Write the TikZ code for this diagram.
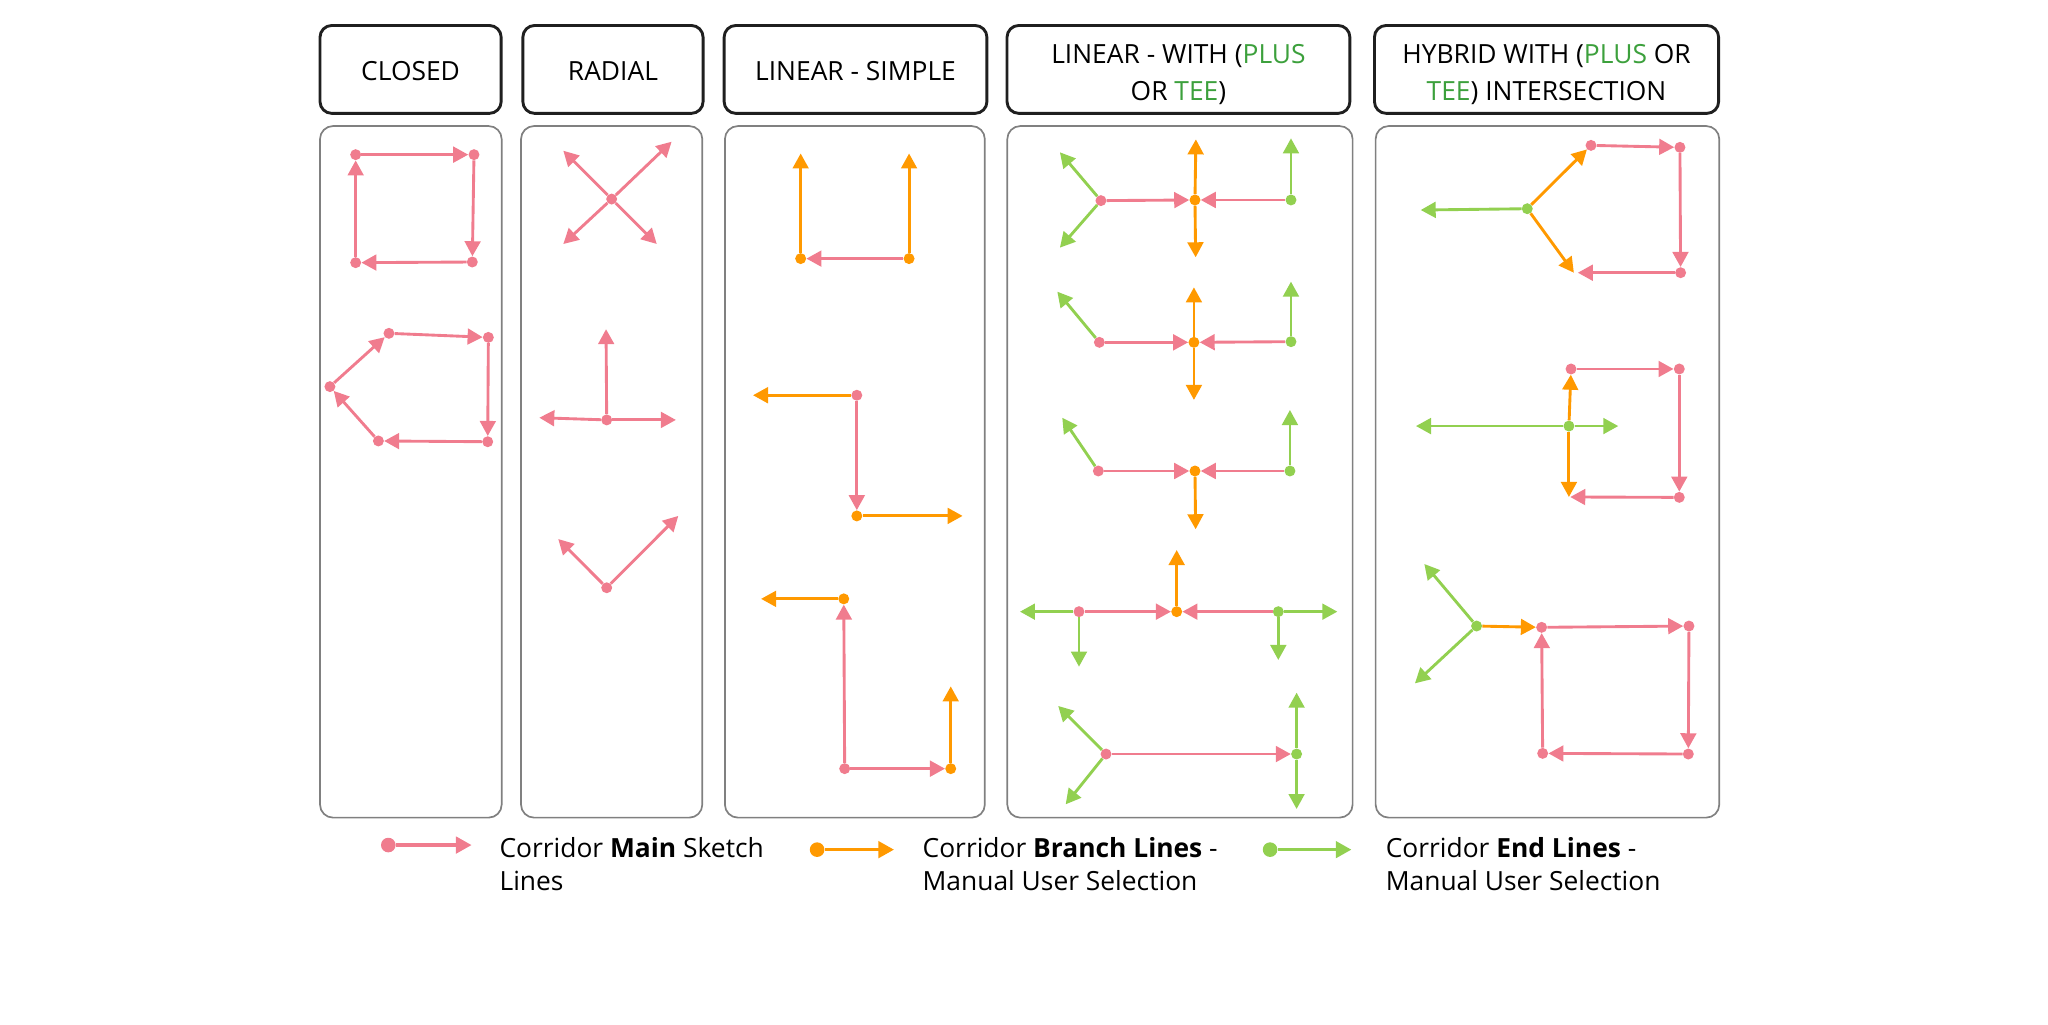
\documentclass[tikz,border=0pt]{standalone}
\usepackage{fontspec}
\setmainfont{Open Sans}
\usetikzlibrary{arrows.meta}
\definecolor{pinkc}{RGB}{240,124,142}
\definecolor{orangec}{RGB}{255,153,0}
\definecolor{greenc}{RGB}{146,208,80}
\definecolor{txtgreen}{RGB}{60,160,60}
\definecolor{panelgray}{RGB}{128,128,128}
\begin{document}
\begin{tikzpicture}[x=1pt,y=-1pt,
  >={Triangle[length=11.5pt,width=12pt]},
  hdrbox/.style={draw=black!88,line width=2.2pt,rounded corners=9pt,fill=white,inner sep=0pt,minimum height=67.3pt},
  panelbox/.style={draw=panelgray,line width=1.3pt,rounded corners=10pt,inner sep=0pt,minimum height=529.5pt},
  lbl/.style={font=\fontsize{20.2}{24}\selectfont,anchor=base,inner sep=0pt},
  leglbl/.style={font=\fontsize{20.2}{24}\selectfont,anchor=base west,inner sep=0pt},
  pdot/.style={circle,fill=pinkc,inner sep=0pt,minimum size=8.4pt},
  odot/.style={circle,fill=orangec,inner sep=0pt,minimum size=8.4pt},
  gdot/.style={circle,fill=greenc,inner sep=0pt,minimum size=8.4pt},
  pl/.style={draw=pinkc,line width=2.2pt,->},
  ol/.style={draw=orangec,line width=2.2pt,->},
  gl/.style={draw=greenc,line width=2.2pt,->},
  legdot/.style={circle,inner sep=0pt,minimum size=11.2pt},
  legline/.style={line width=2.8pt,-{Triangle[length=12pt,width=12.5pt]}}
]
\useasboundingbox (0,0) rectangle (1568,784);

% ---------- header boxes ----------
\node[hdrbox,minimum width=138.7pt] (h1) at (314.35,53.15) {};
\node[hdrbox,minimum width=138pt]   (h2) at (469.3,53.15) {};
\node[hdrbox,minimum width=201.2pt] (h3) at (655,53.15) {};
\node[hdrbox,minimum width=262.5pt] (h4) at (902.25,53.15) {};
\node[hdrbox,minimum width=263.5pt] (h5) at (1184.05,53.15) {};
\node[lbl] (t1) at (314.35,62) {CLOSED};
\node[lbl] (t2) at (469.3,62) {RADIAL};
\node[lbl] (t3) at (655,62) {LINEAR - SIMPLE};
\node[lbl] (t4a) at (902.25,48.5) {LINEAR - WITH (\textcolor{txtgreen}{PLUS}};
\node[lbl] (t4b) at (902.25,76.6) {OR \textcolor{txtgreen}{TEE})};
\node[lbl] (t5a) at (1184.05,48.5) {HYBRID WITH (\textcolor{txtgreen}{PLUS} OR};
\node[lbl] (t5b) at (1184.05,76.6) {\textcolor{txtgreen}{TEE}) INTERSECTION};

% ---------- panels ----------
\node[panelbox,minimum width=139.1pt] (p1) at (314.55,361.25) {};
\node[panelbox,minimum width=138.8pt] (p2) at (468.3,361.25) {};
\node[panelbox,minimum width=199pt]   (p3) at (654.5,361.25) {};
\node[panelbox,minimum width=264.4pt] (p4) at (903.4,361.25) {};
\node[panelbox,minimum width=263.1pt] (p5) at (1184.75,361.25) {};

% ---------- CLOSED ----------
\node[pdot] (ca) at (272.3,118.4) {};
\node[pdot] (cb) at (362.9,118.4) {};
\node[pdot] (cc) at (361.6,200.6) {};
\node[pdot] (cd) at (272.3,201.1) {};
\draw[pl] (ca) -- (cb);
\draw[pl] (cb) -- (cc);
\draw[pl] (cc) -- (cd);
\draw[pl] (cd) -- (ca);
\node[pdot] (pa) at (297.8,255.2) {};
\node[pdot] (pb) at (373.9,258.3) {};
\node[pdot] (pc) at (373.4,338.2) {};
\node[pdot] (pd) at (289.7,337.6) {};
\node[pdot] (pe) at (252.6,296) {};
\draw[pl] (pa) -- (pb);
\draw[pl] (pb) -- (pc);
\draw[pl] (pc) -- (pd);
\draw[pl] (pd) -- (pe);
\draw[pl] (pe) -- (pa);

% ---------- RADIAL ----------
\node[pdot] (rx) at (468.3,152.4) {};
\coordinate (rx1) at (431.3,115.4);
\coordinate (rx2) at (514.2,108.5);
\coordinate (rx3) at (431.3,186.8);
\coordinate (rx4) at (502.8,186.8);
\draw[pl] (rx) -- (rx1);
\draw[pl] (rx) -- (rx2);
\draw[pl] (rx) -- (rx3);
\draw[pl] (rx) -- (rx4);
\node[pdot] (rt) at (464.5,321.5) {};
\coordinate (rt1) at (464,252);
\coordinate (rt2) at (412.9,319.8);
\coordinate (rt3) at (517.5,321.5);
\draw[pl] (rt) -- (rt1);
\draw[pl] (rt) -- (rt2);
\draw[pl] (rt) -- (rt3);
\node[pdot] (rv) at (464.5,450) {};
\coordinate (rv1) at (427.4,412.7);
\coordinate (rv2) at (519.3,395);
\draw[pl] (rv) -- (rv1);
\draw[pl] (rv) -- (rv2);

% ---------- LINEAR - SIMPLE ----------
\node[odot] (sa) at (613,198) {};
\node[odot] (sb) at (696,198) {};
\coordinate (sa1) at (613,117.5);
\coordinate (sb1) at (696,117.5);
\draw[ol] (sa) -- (sa1);
\draw[ol] (sb) -- (sb1);
\draw[pl] (sb) -- (sa);
\node[pdot] (za) at (656,302.6) {};
\node[odot] (zb) at (656,395) {};
\coordinate (za1) at (576.5,302.6);
\coordinate (zb1) at (737,395);
\draw[ol] (za) -- (za1);
\draw[pl] (za) -- (zb);
\draw[ol] (zb) -- (zb1);
\node[odot] (la) at (646,458.5) {};
\node[pdot] (lb) at (646.7,588.5) {};
\node[odot] (lc) at (727.9,588.5) {};
\coordinate (la1) at (582.7,458.5);
\coordinate (lc1) at (727.9,525.5);
\draw[ol] (la) -- (la1);
\draw[pl] (lb) -- (la);
\draw[pl] (lb) -- (lc);
\draw[ol] (lc) -- (lc1);

% ---------- LINEAR - WITH ----------
% pattern 1
\node[pdot] (wa) at (842.9,153.6) {};
\node[odot] (wb) at (914.9,153.1) {};
\node[gdot] (wc) at (988.4,153.1) {};
\coordinate (wa1) at (811.5,116.6);
\coordinate (wa2) at (811.5,189.6);
\coordinate (wb1) at (915.6,106.7);
\coordinate (wb2) at (915.4,197);
\coordinate (wc1) at (988.4,105.9);
\draw[gl] (wa) -- (wa1);
\draw[gl] (wa) -- (wa2);
\draw[pl] (wa) -- (wb);
\draw[pl] (wc) -- (wb);
\draw[ol] (wb) -- (wb1);
\draw[ol] (wb) -- (wb2);
\draw[gl] (wc) -- (wc1);
% pattern 2
\node[pdot] (xa) at (841.7,262.1) {};
\node[odot] (xb) at (914.1,262.1) {};
\node[gdot] (xc) at (988.4,261.6) {};
\coordinate (xa1) at (809.5,223.3);
\coordinate (xb1) at (914.1,220);
\coordinate (xb2) at (914.1,306.2);
\coordinate (xc1) at (988.4,215.6);
\draw[gl] (xa) -- (xa1);
\draw[pl] (xa) -- (xb);
\draw[pl] (xc) -- (xb);
\draw[ol] (xb) -- (xb1);
\draw[ol] (xb) -- (xb2);
\draw[gl] (xc) -- (xc1);
% pattern 3
\node[pdot] (ya) at (840.9,360.6) {};
\node[odot] (yb) at (914.9,360.6) {};
\node[gdot] (yc) at (987.6,360.6) {};
\coordinate (ya1) at (813.3,319.8);
\coordinate (yb1) at (915.4,405.2);
\coordinate (yc1) at (987.6,313.9);
\draw[gl] (ya) -- (ya1);
\draw[pl] (ya) -- (yb);
\draw[pl] (yc) -- (yb);
\draw[ol] (yb) -- (yb1);
\draw[gl] (yc) -- (yc1);
% pattern 4
\node[pdot] (qa) at (826.1,468.3) {};
\node[odot] (qb) at (900.9,468.3) {};
\node[gdot] (qc) at (978.7,468.3) {};
\coordinate (qa1) at (780.9,468.3);
\coordinate (qa2) at (826.1,510.4);
\coordinate (qb1) at (900.9,421.1);
\coordinate (qc1) at (1023.9,468.3);
\coordinate (qc2) at (978.7,505.3);
\draw[gl] (qa) -- (qa1);
\draw[gl] (qa) -- (qa2);
\draw[pl] (qa) -- (qb);
\draw[pl] (qc) -- (qb);
\draw[ol] (qb) -- (qb1);
\draw[gl] (qc) -- (qc1);
\draw[gl] (qc) -- (qc2);
% pattern 5
\node[pdot] (ra) at (846.8,577.3) {};
\node[gdot] (rb) at (992.7,577.3) {};
\coordinate (ra1) at (810.2,540.5);
\coordinate (ra2) at (815.9,615.8);
\coordinate (rb1) at (992.7,530.3);
\coordinate (rb2) at (992.7,619.4);
\draw[gl] (ra) -- (ra1);
\draw[gl] (ra) -- (ra2);
\draw[pl] (ra) -- (rb);
\draw[gl] (rb) -- (rb1);
\draw[gl] (rb) -- (rb2);

% ---------- HYBRID ----------
% pattern 1
\node[gdot] (ha) at (1169.3,159.8) {};
\node[pdot] (hb) at (1218.1,111.3) {};
\node[pdot] (hc) at (1286.2,112.8) {};
\node[pdot] (hd) at (1286.7,208.8) {};
\coordinate (ha1) at (1087.7,160.8);
\coordinate (hx) at (1205,208.8);
\draw[gl] (ha) -- (ha1);
\draw[ol] (ha) -- (hb);
\draw[ol] (ha) -- (hx);
\draw[pl] (hb) -- (hc);
\draw[pl] (hc) -- (hd);
\draw[pl,shorten >=3pt] (hd) -- (hx);
% pattern 2
\node[pdot] (ia) at (1202.8,282.5) {};
\node[pdot] (ib) at (1285.7,282.5) {};
\node[pdot] (ic) at (1285.7,380.8) {};
\node[gdot] (ig) at (1201.2,326.2) {};
\coordinate (ig1) at (1084.1,326.2);
\coordinate (ig2) at (1239,326.2);
\coordinate (iy) at (1201.2,380.5);
\draw[gl] (ig) -- (ig1);
\draw[gl] (ig) -- (ig2);
\draw[ol] (ig) -- (ia);
\draw[ol] (ig) -- (iy);
\draw[pl] (ia) -- (ib);
\draw[pl] (ib) -- (ic);
\draw[pl,shorten >=1pt] (ic) -- (iy);
% pattern 3
\node[gdot] (ja) at (1130.5,479.3) {};
\node[pdot] (jb) at (1180.3,480.3) {};
\node[pdot] (jc) at (1293.1,479.3) {};
\node[pdot] (jd) at (1292.6,577.3) {};
\node[pdot] (je) at (1181.1,576.8) {};
\coordinate (ja1) at (1090.5,431.8);
\coordinate (ja2) at (1083.3,523.2);
\draw[gl] (ja) -- (ja1);
\draw[gl] (ja) -- (ja2);
\draw[ol] (ja) -- (jb);
\draw[pl] (jb) -- (jc);
\draw[pl] (jc) -- (jd);
\draw[pl] (jd) -- (je);
\draw[pl] (je) -- (jb);

% ---------- legend ----------
\node[legdot,fill=pinkc] (lg1) at (297.3,647) {};
\coordinate (lg1e) at (361.1,647);
\draw[legline,draw=pinkc] (lg1) -- (lg1e);
\node[leglbl] (lt1a) at (382.3,656.4) {Corridor \textbf{Main} Sketch};
\node[leglbl] (lt1b) at (382.3,681.9) {Lines};

\node[legdot,fill=orangec] (lg2) at (625.6,650.5) {};
\coordinate (lg2e) at (684.5,650.5);
\draw[legline,draw=orangec] (lg2) -- (lg2e);
\node[leglbl] (lt2a) at (706.2,656.4) {Corridor \textbf{Branch Lines} -};
\node[leglbl] (lt2b) at (706.2,681.9) {Manual User Selection};

\node[legdot,fill=greenc] (lg3) at (972.4,650.5) {};
\coordinate (lg3e) at (1034.7,650.5);
\draw[legline,draw=greenc] (lg3) -- (lg3e);
\node[leglbl] (lt3a) at (1060.8,656.4) {Corridor \textbf{End Lines} -};
\node[leglbl] (lt3b) at (1060.8,681.9) {Manual User Selection};
\end{tikzpicture}
\end{document}
